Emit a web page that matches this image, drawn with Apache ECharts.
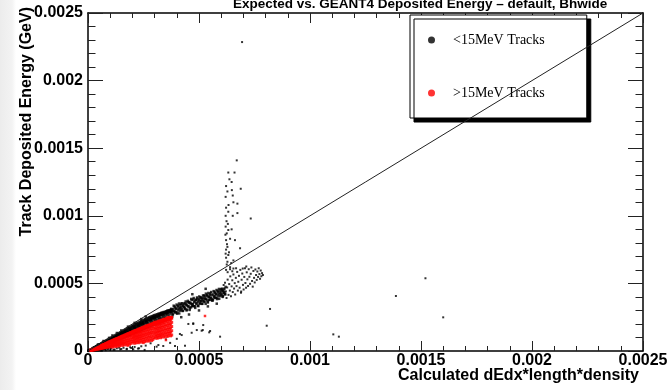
<!DOCTYPE html>
<html>
<head>
<meta charset="utf-8">
<script src="https://cdn.jsdelivr.net/npm/echarts@6/dist/echarts.min.js"></script>
<style>
html, body { margin: 0; padding: 0; background: #fff; }
#chart { width: 670px; height: 390px; }
</style>
</head>
<body>
<div id="chart"></div>
<script>
// All track values are stored in keV and converted to GeV for the axes.
const KEV_TO_GEV = 1e-6;

const xTickLabels = ['0', '0.0005', '0.001', '0.0015', '0.002', '0.0025'];
const yTickLabels = ['0', '0.0005', '0.001', '0.0015', '0.002', '0.0025'];
const xTitle = 'Calculated dEdx*length*density';
const yTitle = 'Track Deposited Energy (GeV)';

// <15MeV tracks: main band near the origin (below 380 keV)
const blackLowBand = [
  [2,1],[3,3],[4,1],[5,4],[6,2],[7,6],[8,3],[9,7],[10,5],[11,9],[12,2],[13,10],[14,6],[15,12],[16,4],[17,13],
  [18,8],[19,15],[20,3],[21,17],[22,10],[23,18],[24,6],[25,20],[26,13],[27,22],[28,5],[29,24],[30,15],[31,26],
  [32,9],[33,27],[34,18],[35,29],[36,7],[37,31],[38,21],[39,33],[40,11],[41,34],[42,24],[43,36],[44,8],[45,38],
  [46,27],[47,40],[48,14],[49,41],[50,30],[51,43],[52,10],[53,45],[54,33],[55,46],[56,17],[57,48],[58,36],[59,50],
  [60,12],[61,51],[62,39],[63,53],[64,20],[65,55],[66,42],[67,56],[68,15],[69,58],[70,45],[71,60],[72,23],[73,61],
  [74,48],[75,63],[76,18],[77,65],[78,51],[79,66],[80,26],[81,68],[82,54],[83,70],[84,21],[85,71],[86,57],[87,73],
  [88,29],[89,75],[90,60],[91,76],[92,24],[93,78],[94,63],[95,80],[96,32],[97,81],[98,66],[99,83],
  [100,70],[103,84],[106,77],[109,66],[112,90],[115,81],[118,72],[121,97],[124,86],[127,79],[130,105],[133,92],
  [136,84],[139,110],[142,99],[145,89],[148,119],[151,104],[154,95],[157,126],[160,111],[163,101],[166,132],
  [169,117],[172,108],[175,141],[178,124],[181,113],[184,148],[187,132],[190,119],[193,156],[196,139],[199,126],
  [202,165],[205,146],[208,133],[211,172],[214,151],[217,139],[220,180],[223,160],[226,146],[229,187],[232,166],
  [235,152],[238,194],[241,174],[244,158],[247,202],[250,180],[253,164],[256,209],[259,188],[262,171],[265,216],
  [268,195],[271,177],[274,225],[277,203],[280,183],[283,232],[286,209],[289,189],[292,240],[295,216],[298,195],
  [301,246],[304,224],[307,201],[310,254],[313,230],[316,208],[319,262],[322,237],[325,214],[328,270],[331,244],
  [334,221],[337,277],[340,250],[343,227],[346,284],[349,258],[352,233],[355,291],[358,265],[361,239],[364,298],
  [367,271],[370,246],[373,304],[376,278],[379,252],
  [101,78],[107,88],[113,73],[119,93],[125,99],[131,88],[137,101],[143,113],[149,98],[155,116],[161,124],[167,110],
  [173,130],[179,140],[185,125],[191,144],[197,152],[203,140],[209,158],[215,168],[221,155],[227,175],[233,182],
  [239,166],[245,190],[251,198],[257,176],[263,204],[269,210],[275,190],[281,220],[287,226],[293,204],[299,232],
  [305,240],[311,214],[317,246],[323,252],[329,230],[335,262],[341,268],[347,242],[353,275],[359,282],[365,254],
  [371,288],[377,292],
  [118,104],[135,114],[152,128],[171,142],[190,160],[208,176],[226,193],[246,210],[262,222],[283,241],[300,255],
  [322,270],[340,283],[358,298],[375,312],[128,113],[164,138],[236,203],[292,249],[330,281]
];

// <15MeV tracks: upper edge of the band, close to the diagonal
const blackUpperEdge = [
  [20,17],[23,22],[26,23],[29,27],[32,28],[35,33],[38,34],[41,39],[44,39],[47,45],[50,44],[53,50],[56,49],[59,56],
  [62,55],[65,62],[68,60],[71,68],[74,66],[77,73],[80,71],[83,79],[86,76],[89,85],[92,81],[95,90],[98,87],[101,96],
  [104,91],[107,101],[110,96],[113,107],[116,101],[119,112],[122,106],[125,118],[128,111],[131,123],[134,117],
  [137,129],[140,122],[143,134],[146,127],[149,140],[152,132],[155,145],[158,137],[161,151],[164,142],[167,156],
  [170,148],[173,162],[176,153],[179,167],[182,158],[185,173],[188,163],[191,178],[194,168],[197,184],[200,173],
  [203,189],[206,178],[209,194],[212,183],[215,200],[218,188],[221,205],[224,193],[227,210],[230,198],[233,215],
  [236,203],[239,220],[242,208],[245,225],[248,213],[251,230],[254,218],[257,235],[260,222],[263,240],[266,227],
  [269,244],[272,231],[275,249],[278,236],[281,253],[284,240],[287,257],[290,244],[293,261],[296,248],[299,265],
  [302,252],[305,268],[308,256],[311,271],[314,259],[317,275],[320,263],[323,278],[326,266],[329,281],[332,270],
  [335,284],[338,273],[341,288],[344,277],[347,290],[350,280],[353,294],[356,283],[359,297],[362,287],[365,300],
  [368,290],[371,303],[374,293],[377,306],[380,296],
  [45,48],[70,74],[110,115],[150,152],[210,208],[260,255],[95,97],[180,180],[130,133],[240,236]
];

// <15MeV tracks: band continuation between 380 and 620 keV
const blackHighBand = [
  [381,266],[384,310],[387,292],[390,329],[393,285],[396,309],[399,343],[402,284],[405,329],[408,311],[411,278],
  [414,338],[417,325],[420,306],[423,353],[426,296],[429,334],[432,322],[435,354],[438,310],[441,348],[444,300],
  [447,337],[450,371],[453,329],[456,362],[459,317],[462,350],[465,385],[468,332],[471,348],[474,381],[477,331],
  [480,367],[483,319],[486,377],[489,352],[492,387],[495,335],[498,373],[501,403],[504,355],[507,371],[510,395],
  [513,349],[516,391],[519,373],[522,411],[525,363],[528,387],[531,424],[534,376],[537,416],[540,359],[543,402],
  [546,378],[549,416],[552,395],[555,436],[558,379],[561,374],[564,418],[567,400],[570,437],[573,393],[576,417],
  [579,451],[582,392],[585,437],[588,419],[591,386],[594,446],[597,433],[600,414],[603,461],[606,404],[609,442],
  [612,430],[615,462],[618,418],
  [383,274],[386,335],[389,297],[392,322],[395,287],[398,315],[401,276],[404,336],[407,300],[410,351],[413,318],
  [416,298],[419,349],[422,315],[425,336],[428,298],[431,348],[434,327],[437,315],[440,366],[443,340],[446,306],
  [449,361],[452,330],[455,358],[458,304],[461,356],[464,323],[467,377],[470,347],[473,335],[476,392],[479,360],
  [482,331],[485,379],[488,350],[491,396],[494,365],[497,332],[500,383],[503,349],[506,397],[509,368],[512,384],
  [515,349],[518,410],[521,367],[524,389],[527,406],[530,349],[533,386],[536,408],[539,366],[542,429],[545,398],
  [548,378],[551,426],[554,392],[557,414],[560,373],[563,382],[566,443],[569,405],[572,430],[575,395],[578,423],
  [581,384],[584,444],[587,408],[590,459],[593,426],[596,406],[599,457],[602,423],[605,444],[608,406],[611,456],
  [614,435],[617,423],[620,474],
  [420,250],[455,270],[500,300],[540,330],[580,350],[470,420],[530,460]
];

// <15MeV tracks: widened cloud at the end of the band
const blackCloud = [
  [603,452],[607,398],[611,488],[614,425],[617,505],[621,441],[624,392],[627,470],[629,528],[633,415],[636,495],
  [639,447],[641,552],[644,405],[647,478],[650,523],[652,436],[655,566],[658,462],[661,502],[663,418],[666,541],
  [669,480],[672,585],[675,447],[677,512],[680,556],[683,468],[686,600],[689,431],[692,527],[695,573],[698,489],
  [701,455],[704,548],[707,612],[709,503],[712,468],[715,582],[718,530],[721,481],[724,605],[727,549],[730,497],
  [733,571],[736,618],[739,518],[742,476],[745,592],[748,541],[751,507],[754,603],[757,562],[760,526],[763,588],
  [766,548],[769,612],[772,569],[775,534],[778,595],[781,553],[784,576],[788,562],[697,610],[713,625],[650,590],
  [667,612],[629,583],[640,605],[690,440]
];

// <15MeV tracks: vertical spike near 630 keV
const blackSpike = [
  [670,1410],[632,1320],[647,1250],[622,1220],[688,1200],[652,1150],[620,1140],[655,1100],[673,1090],[622,1060],
  [632,1030],[673,1020],[620,1000],[652,1000],[733,980],[620,920],[632,895],[647,900],[625,870],[640,830],
  [622,820],[662,820],[628,770],[685,760],[622,750],[632,710],[622,690],[655,670],[625,640],[640,620],[655,610],
  [622,600],[660,1320],[628,1180],[637,1270],[624,960],[630,940],[619,860],[626,790],[635,730],[628,660],[645,650],
  [620,720],[633,1080],[648,1190]
];

// <15MeV tracks: isolated points
const blackSparse = [
  [694,2285],[1105,123],[1130,106],[1387,407],[1520,538],[1600,249],[820,311],[805,187],
  [452,200],[474,200],[512,150],[546,138],[414,126],[351,86],[317,44],[282,57],[437,39],[474,205],[490,155],
  [467,135],[550,148],[517,155],[422,118],[519,192],[309,32],[339,37],[392,37],[595,106],[174,13],[204,13],
  [230,20],[255,8],[150,15],[120,10],[100,8],[80,6],[60,4],[140,25],[190,28],[260,40],[370,60],[400,90],
  [50,8],[65,10],[75,14],[90,12],[105,18],[115,9],[130,20],[145,12],[160,24],[175,16],[195,22],[210,30],[225,18],
  [240,35]
];

// >15MeV tracks
const redBand = [
  [12,4],[12,7],[17,5],[17,10],[22,7],[22,13],[27,9],[27,16],[32,10],[32,19],[37,12],[37,22],[42,14],[42,25],
  [47,15],[47,28],[52,17],[52,31],[57,19],[57,34],[62,20],[62,37],[67,22],[67,40],[72,24],[72,43],[77,25],[77,46],
  [82,27],[82,49],[87,29],[87,52],[92,30],[92,55],[97,32],[97,58],[30,14],[45,20],[60,28],[75,35],[90,42],
  [102,31],[102,45],[102,61],[107,38],[107,53],[107,68],[112,29],[112,44],[112,61],[117,35],[117,51],[117,69],
  [122,44],[122,61],[122,78],[127,33],[127,50],[127,69],[132,39],[132,57],[132,77],[137,49],[137,68],[137,86],
  [142,37],[142,56],[142,77],[147,44],[147,64],[147,86],[152,55],[152,75],[152,96],[157,41],[157,62],[157,85],
  [162,48],[162,70],[162,96],[167,59],[167,82],[167,105],[172,45],[172,68],[172,93],[177,53],[177,77],[177,105],
  [182,65],[182,90],[182,115],[187,49],[187,75],[187,102],[192,57],[192,84],[192,114],[197,70],[197,97],[197,124],
  [202,59],[202,82],[202,103],[202,124],[207,70],[207,94],[207,115],[207,135],[212,57],[212,79],[212,102],[212,123],
  [217,63],[217,88],[217,110],[217,133],[222,75],[222,100],[222,123],[222,144],[227,61],[227,84],[227,108],[227,132],
  [232,67],[232,94],[232,118],[232,142],[237,80],[237,107],[237,132],[237,154],[242,65],[242,90],[242,116],[242,140],
  [247,72],[247,100],[247,125],[247,152],[252,85],[252,114],[252,140],[252,164],[257,69],[257,95],[257,123],[257,149],
  [262,76],[262,106],[262,133],[262,161],[267,90],[267,120],[267,148],[267,173],[272,73],[272,101],[272,130],[272,157],
  [277,80],[277,112],[277,140],[277,170],[282,95],[282,127],[282,156],[282,183],[287,77],[287,106],[287,137],[287,166],
  [292,85],[292,118],[292,148],[292,179],[297,100],[297,134],[297,165],[297,193],
  [302,95],[302,120],[302,146],[302,171],[302,195],[307,109],[307,134],[307,161],[307,186],[307,203],
  [312,94],[312,116],[312,142],[312,168],[312,193],[317,100],[317,126],[317,152],[317,178],[317,203],
  [322,114],[322,141],[322,169],[322,196],[322,213],[327,98],[327,122],[327,149],[327,176],[327,202],
  [332,105],[332,132],[332,160],[332,187],[332,213],[337,119],[337,147],[337,176],[337,204],[337,222],
  [342,103],[342,128],[342,156],[342,184],[342,211],[347,109],[347,138],[347,167],[347,195],[347,223],
  [352,125],[352,154],[352,185],[352,214],[352,233],[357,107],[357,133],[357,162],[357,192],[357,221],
  [362,114],[362,144],[362,174],[362,204],[362,233],[367,130],[367,160],[367,192],[367,222],[367,242],
  [372,112],[372,139],[372,170],[372,200],[372,230],[377,118],[377,150],[377,181],[377,212],[377,242]
];

// >15MeV tracks: upper part of the red wedge
const redUpper = [
  [60,40],[66,45],[72,48],[78,53],[84,57],[90,62],[96,67],[102,70],[108,75],[114,79],[120,84],[126,89],[132,92],
  [138,96],[144,101],[150,106],[156,110],[162,113],[168,118],[174,122],[180,127],[186,130],[192,135],[198,139],
  [204,143],[210,148],[216,151],[222,155],[228,160],[234,164],[240,168],[246,172],[252,176],[258,180],[264,184],
  [270,188],[276,191],[282,195],[288,199],[294,204],[300,207],[306,211],[312,214],[318,218],[324,222],[330,224],
  [336,228],[342,232],[348,235],[354,239],[360,241],[366,244],[372,247],[376,249],
  [63,38],[69,46],[75,49],[81,55],[87,59],[93,65],[99,68],[105,73],[111,76],[117,82],[123,85],[129,90],[135,93],
  [141,99],[147,102],[153,108],[159,110],[165,116],[171,119],[177,125],[183,128],[189,133],[195,136],[201,142],
  [207,145],[213,151],[219,153],[225,158],[231,161],[237,167],[243,169],[249,175],[255,177],[261,183],[267,185],
  [273,190],[279,192],[285,198],[291,200],[297,206],[303,208],[309,213],[315,215],[321,221],[327,223],[333,227],
  [339,229],[345,234],[351,236],[357,241],[363,242],[369,246],[375,247]
];

const redSparse = [
  [527,259],[351,81],[140,95],[230,150],[300,215],[360,250],[250,60],[180,40]
];

// Reference diagonal E_dep = E_calc, in GeV
const unityLine = [[0, 0], [0.0025, 0.0025]];

const toGeV = p => [p[0] * KEV_TO_GEV, p[1] * KEV_TO_GEV];
const blackCoreData = [].concat(blackLowBand, blackUpperEdge, blackHighBand).map(toGeV);
const blackLooseData = [].concat(blackCloud, blackSpike, blackSparse).map(toGeV);
const redCoreData = [].concat(redBand, redUpper).map(toGeV);
const redLooseData = redSparse.map(toGeV);

const FONT = '"Liberation Sans", Arial, Helvetica, sans-serif';
const axisColor = '#000';
const BLACK_NAME = '<15MeV Tracks';
const RED_NAME = '>15MeV Tracks';

function frameAxis(extra) {
  return Object.assign({
    type: 'value',
    min: 0,
    max: 0.0025,
    interval: 0.0005,
    splitLine: { show: false },
    axisLine: { show: true, onZero: false, lineStyle: { color: axisColor, width: 1.5 } },
    axisTick: { show: true, inside: true, length: 10, lineStyle: { color: '#222', width: 1 } },
    minorTick: { show: true, splitNumber: 5, length: 5, lineStyle: { color: '#222', width: 1 } },
    minorSplitLine: { show: false }
  }, extra);
}

function dots(name, color, size, data) {
  return {
    name: name,
    type: 'scatter',
    xAxisIndex: 0, yAxisIndex: 0,
    symbol: 'rect',
    symbolSize: size,
    itemStyle: { color: color },
    data: data,
    silent: true
  };
}

const chart = echarts.init(document.getElementById('chart'), null, { renderer: 'canvas' });

chart.setOption({
  animation: false,
  backgroundColor: '#fff',
  title: {
    text: 'Expected vs. GEANT4 Deposited Energy \u2013 default, Bhwide',
    left: 228,
    top: -8,
    textStyle: { fontFamily: FONT, fontWeight: 'bold', fontSize: 13.5, color: '#000' }
  },
  graphic: [
    {
      type: 'rect',
      left: 0, top: 0, z: -10,
      shape: { width: 16, height: 390 },
      style: {
        fill: new echarts.graphic.LinearGradient(0, 0, 1, 0, [
          { offset: 0, color: '#ececec' },
          { offset: 0.75, color: '#f3f3f3' },
          { offset: 1, color: '#ffffff' }
        ])
      }
    },
    {
      // x-axis title, right-aligned under the axis end
      type: 'text',
      x: 639, y: 376,
      style: { text: xTitle, fill: '#000', font: 'bold 16px ' + FONT, textAlign: 'right', textVerticalAlign: 'middle' }
    },
    {
      // y-axis title, rotated, ending at the top of the axis
      type: 'text',
      x: 27, y: 7,
      rotation: Math.PI / 2,
      style: { text: yTitle, fill: '#000', font: 'bold 16px ' + FONT, textAlign: 'right', textVerticalAlign: 'middle' }
    }
  ],
  legend: {
    data: [BLACK_NAME, RED_NAME],
    orient: 'vertical',
    left: 410,
    top: 15,
    padding: [18, 42, 18, 18],
    itemGap: 39,
    itemWidth: 7,
    itemHeight: 7,
    icon: 'circle',
    backgroundColor: '#fff',
    borderColor: '#000',
    borderWidth: 1,
    shadowColor: '#000',
    shadowBlur: 0,
    shadowOffsetX: 4,
    shadowOffsetY: 4,
    textStyle: { fontFamily: '"Liberation Serif", "Times New Roman", serif', fontSize: 14, color: '#000', padding: [0, 0, 0, 13] }
  },
  grid: { left: 88, right: 27, top: 13, bottom: 39, containLabel: false, outerBoundsMode: 'none' },
  xAxis: [
    frameAxis({
      position: 'bottom',
      axisLabel: {
        margin: 2, fontFamily: FONT, fontWeight: 'bold', fontSize: 16, color: '#000',
        formatter: v => xTickLabels[Math.round(v / 0.0005)]
      }
    }),
    frameAxis({ position: 'top', axisLabel: { show: false } })
  ],
  yAxis: [
    frameAxis({
      position: 'left',
      axisTick: { show: true, inside: true, length: 15, lineStyle: { color: '#222', width: 1 } },
      minorTick: { show: true, splitNumber: 5, length: 7.5, lineStyle: { color: '#222', width: 1 } },
      axisLabel: {
        margin: 5, fontFamily: FONT, fontWeight: 'bold', fontSize: 16, color: '#000',
        formatter: v => yTickLabels[Math.round(v / 0.0005)]
      }
    }),
    frameAxis({
      position: 'right',
      axisTick: { show: true, inside: true, length: 15, lineStyle: { color: '#222', width: 1 } },
      minorTick: { show: true, splitNumber: 5, length: 7.5, lineStyle: { color: '#222', width: 1 } },
      axisLabel: { show: false }
    })
  ],
  series: [
    dots(BLACK_NAME, '#000', 2.5, blackCoreData),
    dots(BLACK_NAME, '#000', 2, blackLooseData),
    dots(RED_NAME, '#ff0000', 3, redCoreData),
    dots(RED_NAME, '#ff0000', 2.5, redLooseData),
    {
      name: 'E = E',
      type: 'line',
      xAxisIndex: 0, yAxisIndex: 0,
      data: unityLine,
      showSymbol: false,
      z: 10,
      lineStyle: { color: '#222', width: 1 },
      silent: true
    }
  ]
});
</script>
</body>
</html>
